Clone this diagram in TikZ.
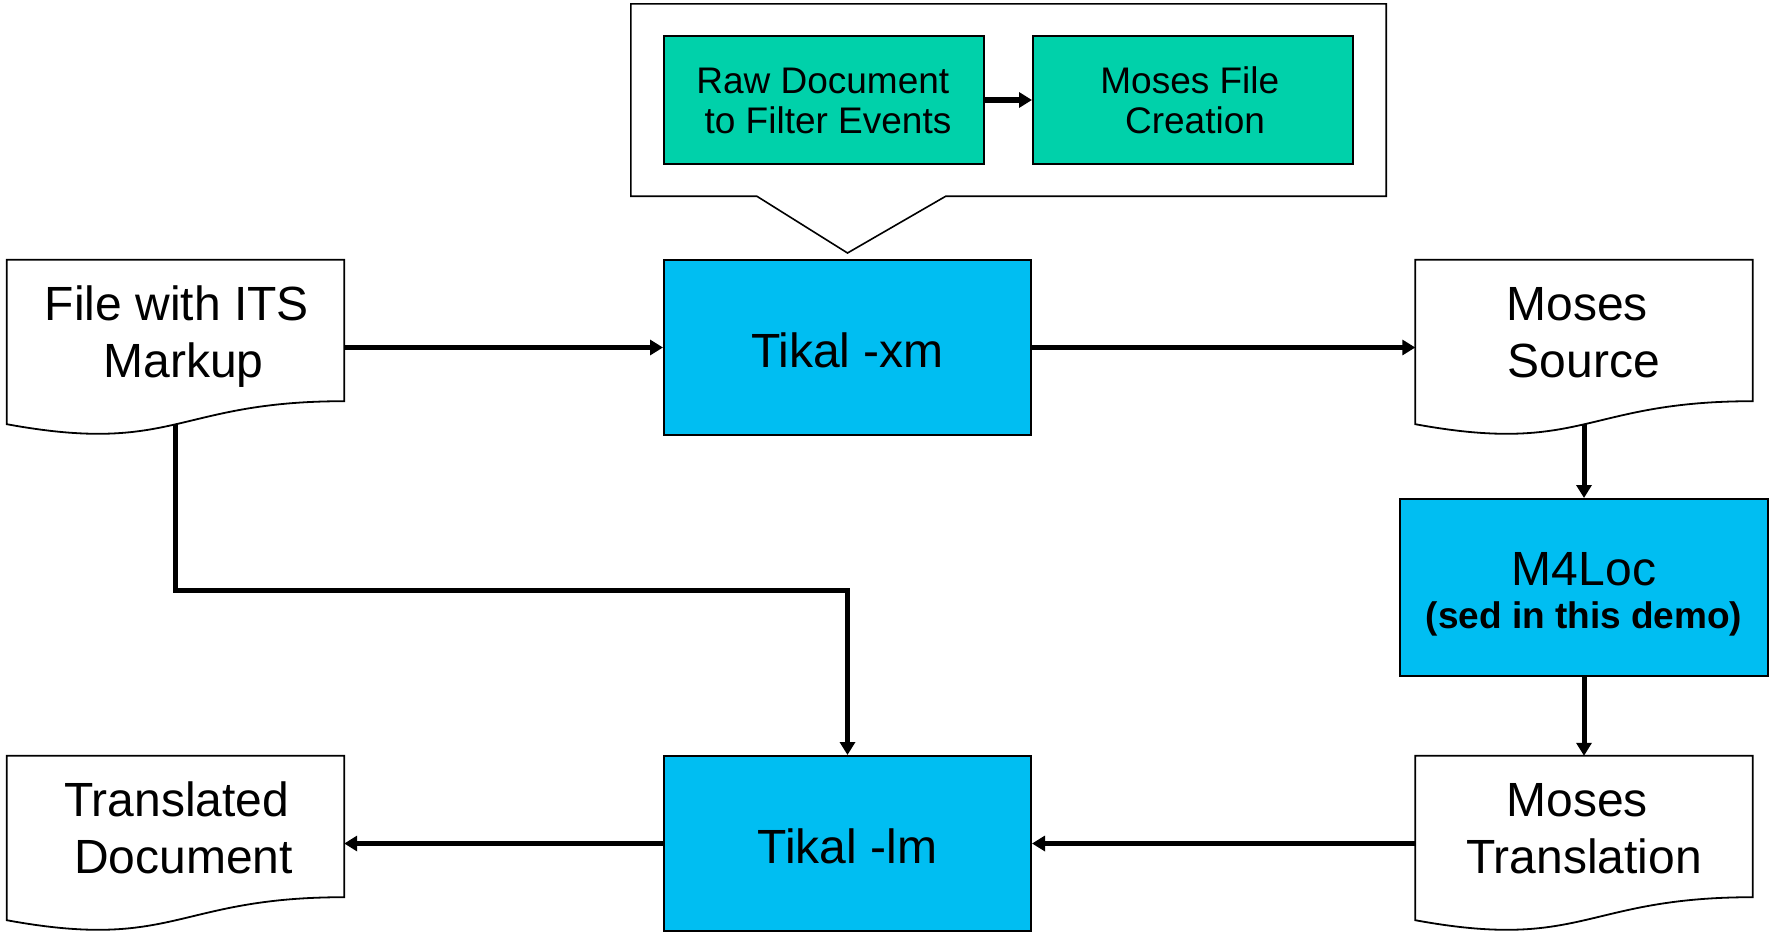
\documentclass[tikz,border=0pt]{standalone}
\usepackage{fontspec}
\setmainfont{Liberation Sans}
\usetikzlibrary{arrows.meta,calc}
\definecolor{boxblue}{RGB}{0,190,242}
\definecolor{boxgreen}{RGB}{0,209,170}
\pgfdeclarelayer{bg}
\pgfdeclarelayer{lines}
\pgfdeclarelayer{docs}
\pgfsetlayers{bg,lines,docs,main}
\newcommand\mydocshape[1]{%
  \path[docline] (#1.north west) -- (#1.north east) -- (#1.south east)
    .. controls (#1.south) and ($(#1.south)+(0,54)$) .. ($(#1.south west)+(0,23)$) -- cycle;}
\begin{document}
\begin{tikzpicture}[x=1pt,y=-1pt,
  procbox/.style={draw=black, line width=2pt, fill=boxblue, minimum width=367pt,
    minimum height=175pt, inner sep=0pt, align=center, font=\fontsize{48}{57}\selectfont,
    text height=39pt, text depth=0pt},
  subbox/.style={draw=black, line width=2pt, fill=boxgreen, minimum width=320pt,
    minimum height=128pt, inner sep=0pt, align=center, font=\fontsize{37}{40}\selectfont,
    text height=74pt, text depth=8pt},
  docnode/.style={minimum width=337pt, minimum height=141pt, inner sep=0pt,
    align=center, font=\fontsize{48}{57}\selectfont, text height=101pt, text depth=8pt},
  docline/.style={draw=black, line width=1.8pt, fill=white},
  calloutbox/.style={minimum width=755pt, minimum height=192pt, inner sep=0pt},
  calloutline/.style={draw=black, line width=1.6pt, fill=white, line join=miter},
  flow/.style={draw=black, line width=5pt, -{Triangle[length=13pt,width=15pt]}},
]
\useasboundingbox (0,0) rectangle (1771,932);
\begin{pgfonlayer}{bg}
\fill[white] (0,0) rectangle (1771,932);
\end{pgfonlayer}

% callout with its two steps
\node[calloutbox] (callout) at (1008.5,100) {};
\node[procbox] (tikalxm) at (847.5,347.5) {Tikal -xm};
\path[calloutline] (callout.north west) -- (callout.north east) -- (callout.south east)
  -- ($(callout.south west)+(315,0)$) -- ($(tikalxm.north)+(0,-6)$)
  -- ($(callout.south west)+(126,0)$) -- (callout.south west) -- cycle;
\node[subbox] (raw) at (824,100) {\kern8pt Raw Document\kern.28em\\\kern8pt to Filter Events};
\node[subbox] (mfc) at (1193,100) {\kern4pt Moses File\kern.28em\\\kern4pt Creation};
\draw[flow, line width=5.5pt] (raw.east) -- (mfc.west);

% process boxes
\node[procbox, minimum width=368pt, minimum height=177pt,
  font=\fontsize{48}{43}\selectfont, text height=89pt, text depth=8pt] (m4loc) at (1584,587.5)
  {M4Loc\\{\fontsize{37}{43}\selectfont\bfseries (sed in this demo)}};
\node[procbox] (tikallm) at (847.5,843.5) {Tikal -lm};

% documents
\node[docnode] (file) at (175.5,330.5) {\kern16pt File with ITS\kern.28em\\\kern16pt Markup};
\node[docnode] (mosessrc) at (1584,330.5) {Moses\kern.28em\\Source};
\node[docnode] (trans) at (175.5,826.5) {\kern16pt Translated\kern.28em\\\kern16pt Document};
\node[docnode] (mosestr) at (1584,826.5) {Moses\kern.28em\\Translation};
\begin{pgfonlayer}{docs}
\mydocshape{file}
\mydocshape{mosessrc}
\mydocshape{trans}
\mydocshape{mosestr}
\end{pgfonlayer}

\coordinate (turn) at (0,590);
\begin{pgfonlayer}{lines}
\draw[flow] (tikalxm.west -| file.east) -- (tikalxm.west);
\draw[flow] (tikalxm.east) -- (tikalxm.east -| mosessrc.west);
\draw[flow] (mosessrc.south) -- (m4loc.north);
\draw[flow] (m4loc.south) -- (mosestr.north);
\draw[flow] (tikallm.east -| mosestr.west) -- (tikallm.east);
\draw[flow] (tikallm.west) -- (tikallm.west -| trans.east);
\draw[flow] (file.south) -- (file.south |- turn) -| (tikallm.north);
\end{pgfonlayer}
\end{tikzpicture}
\end{document}
